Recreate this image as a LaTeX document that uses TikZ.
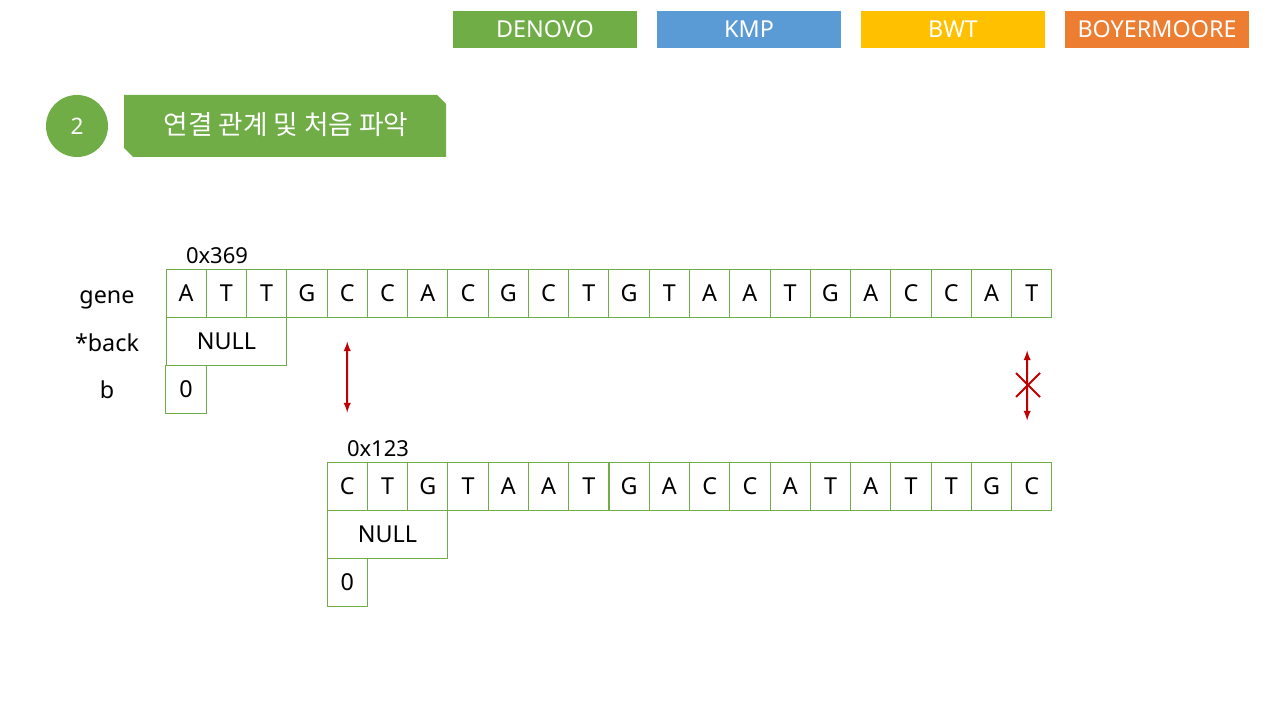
\documentclass[tikz,border=0pt]{standalone}
\usepackage{fontspec}
\setmainfont{Noto Sans}
\newfontfamily\kr{Noto Sans CJK KR}
\definecolor{denovo}{HTML}{70AD47}
\definecolor{kmp}{HTML}{5B9BD5}
\definecolor{bwt}{HTML}{FFC000}
\definecolor{boyer}{HTML}{ED7D31}
\definecolor{linkred}{HTML}{C00000}
\begin{document}
\begin{tikzpicture}[x=0.75pt, y=-0.75pt,
        tab/.style={rectangle, minimum width=138pt, minimum height=27.75pt, inner sep=0pt, text=white, font=\fontsize{17.5}{20}\selectfont},
        cell/.style={rectangle, draw=denovo, line width=0.75pt, minimum width=30.2pt, minimum height=36pt, inner sep=0pt, font=\fontsize{17.5}{20}\selectfont},
        rowlabel/.style={anchor=base, font=\fontsize{17.5}{20}\selectfont},
        addr/.style={font=\fontsize{16.5}{18}\selectfont},
        arrow/.style={<->, line width=1.5pt, draw=linkred, >=latex}
    ]
        \useasboundingbox (0,0) rectangle (1280,720);

        % Algorithm tabs
        \node[tab, fill=denovo] (tab1) at (545,29.5) {DENOVO};
        \node[tab, fill=kmp] (tab2) at (749,29.5) {KMP};
        \node[tab, fill=bwt] (tab3) at (953,29.5) {BWT};
        \node[tab, fill=boyer] (tab4) at (1157,29.5) {BOYERMOORE};

        % Step title
        \node[circle, fill=denovo, minimum size=46.5pt, inner sep=0pt, text=white, font=\fontsize{17}{18}\selectfont] (step) at (77,126) {2};
        \fill[denovo] (124,95) -- (437,95) -- (446,104) -- (446,157) -- (133,157) -- (124,148) -- cycle;
        \node[text=white, font=\kr\fontsize{20}{22}\selectfont] (title) at (286,125) {연결 관계 및 처음 파악};

        % First read
        \node[rowlabel] (lgene) at (107,303) {gene};
        \node[rowlabel] (lback) at (107,351) {*back};
        \node[rowlabel] (lb) at (107,398) {b};
        \foreach \l [count=\i] in {A,T,T,G,C,C,A,C,G,C,T,G,T,A,A,T,G,A,C,C,A,T}
            \node[cell] (g\i) at ({166+40.27*(\i-0.5)},293) {\l};
        \node[cell, minimum width=90.6pt] (gnull) at (226.4,341) {NULL};
        \node[cell] (gb) at (186.1,389) {0};
        \node[addr] (gaddr) at (217,256) {0x369};

        % Second read
        \foreach \l [count=\i] in {C,T,G,T,A,A,T,G,A,C,C,A,T,A,T,T,G,C}
            \node[cell] (h\i) at ({327.1+40.27*(\i-0.5)},486) {\l};
        \node[cell, minimum width=90.6pt] (hnull) at (387.5,534) {NULL};
        \node[cell] (hb) at (347.2,582) {0};
        \node[addr] (haddr) at (378,449) {0x123};

        % Links
        \draw[arrow, shorten <=18pt, shorten >=36.75pt] (g5.south) -- (h1.north);
        \draw[arrow, shorten <=24.75pt, shorten >=30.75pt] ([xshift=-3.5pt]g22.south) -- ([xshift=-3.5pt]h18.north);
        \coordinate (cut) at (1028,385);
        \draw[linkred, line width=1.5pt] ([shift={(-12,-12)}]cut) -- ([shift={(12,12)}]cut);
        \draw[linkred, line width=1.5pt] ([shift={(-12,12)}]cut) -- ([shift={(12,-12)}]cut);

    \end{tikzpicture}
\end{document}
